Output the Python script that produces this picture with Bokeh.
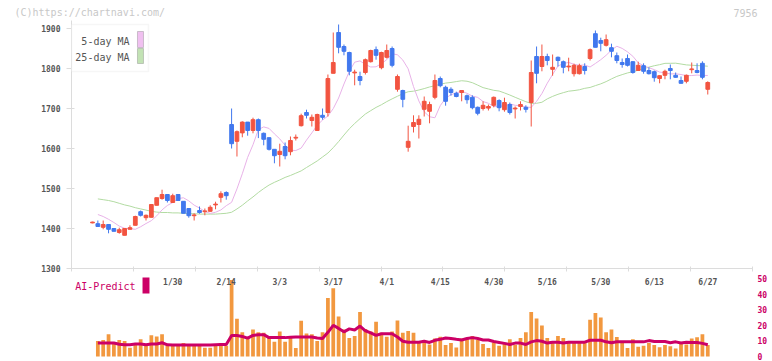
from bokeh.plotting import figure
from bokeh.models import (Range1d, FixedTicker, Label, BoxAnnotation, ColumnDataSource,
                          PrintfTickFormatter)
from bokeh.layouts import column
from bokeh.embed import file_html
from bokeh.resources import INLINE
from bokeh.core.properties import value

# ---------------- data ----------------
opens = [1414, 1412, 1403, 1410, 1400, 1390, 1383, 1398, 1408, 1442,
         1427, 1428, 1458, 1475, 1485, 1465, 1485, 1468, 1450, 1432,
         1445, 1442, 1443, 1459, 1478, 1490, 1660, 1618, 1639, 1666,
         1645, 1672, 1638, 1627, 1598, 1585, 1605, 1592, 1626, 1657,
         1690, 1670, 1645, 1683, 1690, 1788, 1890, 1855, 1840, 1789,
         1780, 1790, 1817, 1847, 1802, 1828, 1850, 1748, 1745, 1603,
         1655, 1660, 1698, 1693, 1728, 1775, 1753, 1748, 1738, 1740,
         1732, 1728, 1703, 1700, 1701, 1708, 1720, 1697, 1710, 1699,
         1705, 1703, 1715, 1830, 1805, 1830, 1798, 1828, 1817, 1804,
         1787, 1787, 1805, 1825, 1887, 1870, 1858, 1852, 1832, 1815,
         1825, 1817, 1795, 1807, 1795, 1792, 1775, 1783, 1800, 1783,
         1770, 1768, 1797, 1795, 1813, 1748]
highs = [1417, 1420, 1420, 1410, 1400, 1402, 1400, 1408, 1432, 1445,
         1435, 1460, 1477, 1497, 1485, 1487, 1485, 1468, 1450, 1438,
         1455, 1450, 1458, 1467, 1493, 1493, 1700, 1645, 1668, 1666,
         1677, 1675, 1640, 1628, 1598, 1612, 1615, 1630, 1635, 1687,
         1697, 1685, 1687, 1700, 1785, 1890, 1910, 1860, 1842, 1797,
         1792, 1825, 1847, 1855, 1842, 1860, 1855, 1785, 1747, 1657,
         1683, 1683, 1730, 1717, 1785, 1780, 1757, 1753, 1742, 1745,
         1735, 1733, 1705, 1718, 1710, 1730, 1723, 1727, 1715, 1705,
         1718, 1708, 1820, 1855, 1860, 1837, 1835, 1830, 1820, 1827,
         1812, 1812, 1813, 1850, 1895, 1877, 1885, 1862, 1840, 1825,
         1835, 1818, 1817, 1813, 1803, 1795, 1783, 1797, 1810, 1790,
         1780, 1785, 1815, 1813, 1818, 1768]
lows = [1413, 1405, 1398, 1388, 1393, 1387, 1383, 1398, 1408, 1430,
        1420, 1428, 1458, 1472, 1465, 1465, 1470, 1438, 1427, 1420,
        1437, 1433, 1442, 1448, 1465, 1472, 1600, 1580, 1628, 1632,
        1638, 1626, 1608, 1595, 1563, 1555, 1573, 1583, 1620, 1655,
        1675, 1655, 1645, 1672, 1680, 1788, 1838, 1833, 1783, 1758,
        1758, 1785, 1815, 1822, 1798, 1825, 1803, 1742, 1703, 1592,
        1640, 1625, 1680, 1663, 1723, 1753, 1707, 1732, 1728, 1718,
        1712, 1698, 1683, 1695, 1695, 1703, 1693, 1692, 1685, 1675,
        1695, 1690, 1655, 1763, 1793, 1808, 1782, 1805, 1788, 1793,
        1780, 1785, 1785, 1820, 1853, 1843, 1855, 1828, 1813, 1802,
        1805, 1787, 1795, 1787, 1785, 1767, 1763, 1773, 1773, 1777,
        1762, 1763, 1788, 1788, 1773, 1735]
closes = [1416, 1405, 1410, 1398, 1393, 1397, 1400, 1402, 1430, 1433,
          1433, 1460, 1477, 1485, 1470, 1482, 1470, 1438, 1432, 1434,
          1440, 1444, 1453, 1461, 1487, 1482, 1612, 1642, 1666, 1645,
          1672, 1645, 1623, 1598, 1582, 1593, 1582, 1620, 1628, 1682,
          1683, 1678, 1685, 1678, 1775, 1815, 1853, 1843, 1793, 1791,
          1770, 1822, 1845, 1833, 1840, 1845, 1808, 1780, 1723, 1618,
          1665, 1673, 1718, 1710, 1770, 1757, 1718, 1740, 1730, 1745,
          1722, 1702, 1688, 1708, 1705, 1728, 1702, 1715, 1690, 1701,
          1710, 1698, 1790, 1788, 1830, 1820, 1803, 1820, 1803, 1806,
          1808, 1807, 1795, 1847, 1853, 1863, 1872, 1843, 1820, 1810,
          1808, 1790, 1808, 1793, 1787, 1777, 1782, 1793, 1795, 1778,
          1763, 1783, 1799, 1790, 1778, 1765]

# 5-day and 25-day moving averages (from day index 1 onward)
ma5 = [1435, 1430, 1423, 1415, 1406, 1400.6, 1399.6, 1398.0, 1404.4, 1412.4,
       1419.6, 1431.6, 1446.6, 1457.6, 1465.0, 1474.8, 1476.8, 1469.0, 1458.4, 1451.2,
       1442.8, 1437.6, 1440.6, 1446.4, 1457.0, 1465.4, 1499.0, 1536.8, 1577.8, 1609.4,
       1647.4, 1654.0, 1650.2, 1636.6, 1624.0, 1608.2, 1595.6, 1595.0, 1601.0, 1621.0,
       1639.0, 1658.2, 1671.2, 1681.2, 1699.8, 1726.2, 1761.2, 1792.8, 1815.8, 1819.0,
       1810.0, 1803.8, 1804.2, 1812.2, 1822.0, 1837.0, 1834.2, 1821.2, 1799.2, 1754.8,
       1718.8, 1691.8, 1679.4, 1676.8, 1707.2, 1725.6, 1734.6, 1739.0, 1743.0, 1738.0,
       1731.0, 1727.8, 1717.4, 1713.0, 1705.0, 1706.2, 1706.2, 1711.6, 1708.0, 1707.2,
       1703.6, 1702.8, 1717.8, 1737.4, 1763.2, 1785.2, 1806.2, 1812.2, 1815.2, 1810.4,
       1808.0, 1808.8, 1803.8, 1812.6, 1822.0, 1833.0, 1846.0, 1855.6, 1850.2, 1841.6,
       1830.6, 1814.2, 1807.2, 1801.8, 1797.2, 1791.0, 1789.4, 1786.4, 1786.8, 1785.0,
       1782.2, 1782.4, 1783.6, 1782.6, 1782.6]
ma25 = [1474, 1472, 1470, 1467, 1463, 1459, 1456, 1452, 1449, 1446,
        1443, 1441, 1440, 1440, 1439, 1439, 1438, 1437, 1437, 1436,
        1436, 1436, 1436, 1437, 1438, 1440.6, 1448.9, 1458.2, 1468.9, 1479.0,
        1490.0, 1499.8, 1508.6, 1515.4, 1521.3, 1527.7, 1532.6, 1538.3, 1544.0, 1552.5,
        1560.6, 1568.9, 1578.8, 1588.6, 1602.2, 1617.2, 1633.6, 1649.2, 1662.5, 1674.6,
        1686.2, 1694.6, 1702.7, 1709.4, 1717.2, 1724.1, 1730.6, 1736.9, 1741.9, 1743.3,
        1746.2, 1749.8, 1753.8, 1757.0, 1760.6, 1763.5, 1765.1, 1767.3, 1769.4, 1768.2,
        1764.5, 1758.4, 1752.2, 1748.8, 1745.4, 1743.7, 1738.9, 1733.7, 1728.0, 1722.4,
        1717.0, 1712.6, 1713.0, 1715.6, 1724.1, 1730.3, 1735.5, 1739.6, 1743.3, 1744.8,
        1746.8, 1750.4, 1752.6, 1757.2, 1761.6, 1767.2, 1774.0, 1780.2, 1784.7, 1788.9,
        1792.1, 1795.6, 1799.3, 1803.4, 1806.9, 1809.6, 1812.9, 1813.0, 1813.3, 1811.2,
        1809.0, 1808.2, 1807.3, 1806.8, 1805.7]

# lower panel (from day index 1 onward)
volume = [10.0, 10.6, 14.2, 8.6, 10.6, 10.0, 5.6, 8.6, 11.1, 6.9,
          13.6, 12.9, 14.2, 6.9, 6.9, 6.9, 8.6, 6.9, 6.9, 6.9,
          5.6, 5.6, 6.9, 8.6, 6.9, 49.0, 24.2, 15.6, 12.5, 17.3,
          15.6, 15.2, 12.1, 9.4, 16.1, 9.4, 12.7, 5.4, 22.9, 14.8,
          14.2, 10.0, 15.6, 37.5, 43.8, 25.6, 17.3, 11.9, 13.2, 28.6,
          17.7, 16.1, 22.3, 15.2, 12.7, 16.1, 23.1, 15.2, 16.3, 15.2,
          9.4, 10.6, 7.7, 11.5, 12.7, 7.3, 8.6, 5.8, 11.5, 11.9,
          13.2, 10.6, 8.0, 5.4, 9.0, 6.9, 8.6, 11.1, 7.5, 11.9,
          15.6, 28.6, 24.4, 19.8, 11.9, 9.0, 13.1, 11.9, 9.0, 10.0,
          10.0, 9.0, 23.6, 27.9, 25.0, 15.6, 17.3, 12.5, 9.8, 5.4,
          11.1, 6.3, 6.9, 8.6, 7.3, 6.0, 7.3, 6.5, 5.2, 9.0,
          7.7, 11.5, 12.3, 14.2, 7.3]
ai_predict = [8.6, 8.6, 8.6, 8.6, 7.8, 7.5, 7.5, 8.0, 8.0, 7.5,
              8.0, 8.0, 8.8, 7.5, 7.3, 7.3, 7.3, 7.3, 7.3, 7.3,
              7.3, 7.3, 7.5, 7.7, 7.7, 13.5, 13.4, 12.8, 11.8, 13.5,
              14.0, 14.0, 12.1, 12.1, 12.1, 12.1, 12.3, 12.5, 12.5, 12.5,
              12.5, 11.9, 11.5, 15.5, 20.0, 18.0, 15.8, 17.7, 17.0, 19.5,
              16.5, 15.2, 13.5, 14.6, 14.6, 14.6, 12.5, 9.8, 9.2, 9.2,
              9.2, 9.8, 9.0, 10.4, 11.0, 11.9, 11.5, 11.0, 10.6, 11.5,
              12.1, 11.5, 10.6, 10.6, 9.6, 9.0, 8.4, 7.7, 8.6, 8.6,
              7.7, 9.4, 10.2, 9.8, 8.6, 9.2, 9.2, 8.6, 9.2, 9.2,
              9.2, 9.2, 10.4, 10.4, 10.4, 9.4, 8.8, 9.4, 9.4, 9.4,
              9.4, 9.4, 9.4, 10.2, 9.6, 9.6, 9.6, 8.8, 9.4, 8.6,
              9.2, 9.0, 9.0, 8.4, 7.5]

date_labels = ["1/30", "2/14", "3/3", "3/17", "4/1", "4/15", "4/30",
               "5/16", "5/30", "6/13", "6/27"]
date_label_days = [15, 25, 35, 45, 55, 65, 75, 85, 95, 105, 115]
price_ticks = [1300, 1400, 1500, 1600, 1700, 1800, 1900]
vol_ticks = [0, 10, 20, 30, 40, 50]
header_left = "(C)https://chartnavi.com/"
header_right = "7956"

# ---------------- styling ----------------
RED = "#f25440"
BLUE = "#4178ee"
MONO = "DejaVu Sans Mono"
AXIS_GREY = "#dcdcdc"
W = 772

n = len(closes)
days = list(range(n))
days_sub = days[1:]
colors = [RED if c >= o else BLUE for o, c in zip(opens, closes)]
tops = [max(o, c) for o, c in zip(opens, closes)]
bottoms = [min(o, c) for o, c in zip(opens, closes)]

X0, X1 = -3.925, 123.36
xr = Range1d(X0, X1)

# ---------------- header strip ----------------
p0 = figure(width=W, height=20, x_range=Range1d(0, W), y_range=Range1d(20, 0),
            output_backend="svg", toolbar_location=None,
            min_border=0, outline_line_color=None,
            x_axis_location=None, y_axis_location=None)
if "frame_align" in p0.properties():
    p0.frame_align = False
p0.grid.visible = False
p0.text(x=[14], y=[12], text=[header_left], text_font=value(MONO),
        text_font_size="10px", text_color="#c8c8c8",
        text_align="left", text_baseline="middle")
p0.text(x=[757], y=[12], text=[header_right], text_font=value(MONO),
        text_font_size="10px", text_color="#c8c8c8",
        text_align="right", text_baseline="middle")

# ---------------- price panel ----------------
p1 = figure(width=W, height=254, x_range=xr, y_range=Range1d(1300, 1920),
            output_backend="svg", toolbar_location=None,
            min_border_left=71, min_border_right=20, min_border_top=0,
            min_border_bottom=6, outline_line_color=None)
p1.grid.visible = False

p1.yaxis.ticker = FixedTicker(ticks=price_ticks)
p1.yaxis.axis_line_color = AXIS_GREY
p1.yaxis.major_tick_line_color = AXIS_GREY
p1.yaxis.minor_tick_line_color = None
p1.yaxis.major_tick_out = 5
p1.yaxis.major_tick_in = 3
p1.yaxis.major_label_standoff = 6
p1.yaxis.major_label_text_font = MONO
p1.yaxis.major_label_text_font_size = "8px"
p1.yaxis.major_label_text_font_style = "bold"
p1.yaxis.major_label_text_color = "#555555"

# bottom axis: tick marks only, no labels
p1.xaxis.ticker = FixedTicker(ticks=[X0 + k * (X1 - X0) / 11 for k in range(12)])
p1.xaxis.formatter = PrintfTickFormatter(format="")
p1.xaxis.axis_line_color = AXIS_GREY
p1.xaxis.major_tick_line_color = AXIS_GREY
p1.xaxis.minor_tick_line_color = None
p1.xaxis.major_tick_out = 3
p1.xaxis.major_tick_in = 2
p1.xaxis.major_label_text_font_size = "0px"
p1.xaxis.major_label_standoff = 0

p1.line(x=days_sub, y=ma25, line_color="#b2dba2", line_width=1)
p1.line(x=days_sub, y=ma5, line_color="#e8b2e8", line_width=1)

src = ColumnDataSource(dict(x=days, hi=highs, lo=lows, top=tops, bottom=bottoms, color=colors))
p1.segment(x0="x", y0="lo", x1="x", y1="hi", line_color="color", line_width=1, source=src)
p1.vbar(x="x", width=0.7, top="top", bottom="bottom", fill_color="color",
        line_color="color", line_width=1, source=src)

# legend box
p1.add_layout(BoxAnnotation(left=X0, right=10.47, top=1910, bottom=1792.5,
                            fill_color="white", fill_alpha=1.0,
                            line_color="#e2e2e2", line_width=1.5))
p1.add_layout(Label(x=6.92, y=1867.5, text="5-day MA", text_align="right",
                    text_baseline="middle", text_font=MONO, text_font_size="10px",
                    text_color="#555555"))
p1.add_layout(Label(x=6.92, y=1827.5, text="25-day MA", text_align="right",
                    text_baseline="middle", text_font=MONO, text_font_size="10px",
                    text_color="#555555"))
p1.add_layout(BoxAnnotation(left=8.41, right=9.53, top=1892.5, bottom=1852.5,
                            fill_color="#f0c0f0", fill_alpha=1.0,
                            line_color="#666666", line_width=1))
p1.add_layout(BoxAnnotation(left=8.41, right=9.53, top=1850, bottom=1812.5,
                            fill_color="#c2e2b4", fill_alpha=1.0,
                            line_color="#666666", line_width=1))

# ---------------- AI-Predict panel ----------------
p2 = figure(width=W, height=87, x_range=xr, y_range=Range1d(-3.205, 52.564),
            output_backend="svg", toolbar_location=None,
            min_border_left=71, min_border_right=20, min_border_top=0,
            min_border_bottom=0, outline_line_color=None,
            x_axis_location=None, y_axis_location="right")
p2.grid.visible = False
p2.yaxis.ticker = FixedTicker(ticks=vol_ticks)
p2.yaxis.axis_line_color = None
p2.yaxis.major_tick_line_color = None
p2.yaxis.minor_tick_line_color = None
p2.yaxis.major_tick_out = 0
p2.yaxis.major_tick_in = 0
p2.yaxis.major_label_standoff = 5
p2.yaxis.major_label_text_font = MONO
p2.yaxis.major_label_text_font_size = "8px"
p2.yaxis.major_label_text_font_style = "bold"
p2.yaxis.major_label_text_color = "#cc0066"

p2.vbar(x=days_sub, top=volume, bottom=0, width=0.7, fill_color="#f2983f",
        line_color=None)
p2.line(x=days_sub, y=ai_predict, line_color="#cc0066", line_width=3)

lab_src = ColumnDataSource(dict(x=date_label_days, y=[47.44] * len(date_labels), t=date_labels))
p2.text(x="x", y="y", text="t", source=lab_src, text_font=value(MONO),
        text_font_size="8px", text_font_style="bold", text_color="#555555",
        text_align="center", text_baseline="middle")

p2.add_layout(Label(x=8.04, y=44.87, text="AI-Predict", text_align="right",
                    text_baseline="middle", text_font=MONO, text_font_size="10px",
                    text_color="#cc0066"))
p2.add_layout(BoxAnnotation(left=9.35, right=10.65, top=50.64, bottom=40.38,
                            fill_color="#cc0066", fill_alpha=1.0, line_color=None))

layout = column(p0, p1, p2, spacing=0)
open("out.html", "w").write(file_html(layout, INLINE))
